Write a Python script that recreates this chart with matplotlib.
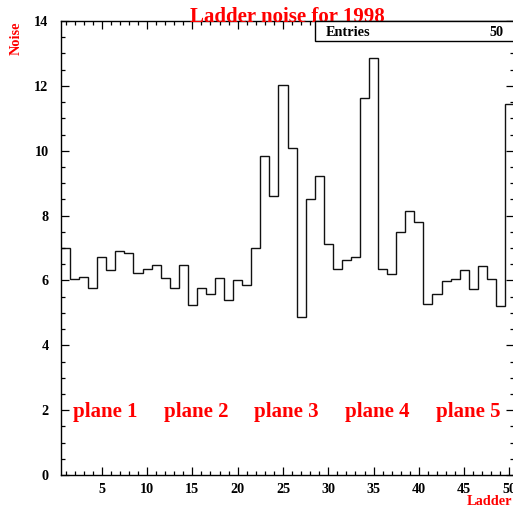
import numpy as np
import matplotlib
matplotlib.use("Agg")
import matplotlib.pyplot as plt
from matplotlib.patches import Rectangle
from matplotlib.ticker import MultipleLocator

# ---- data ----
ladders = list(range(1, 51))
noise = [7.00, 6.04, 6.11, 5.76, 6.71, 6.31, 6.92, 6.84, 6.22, 6.34,
         6.47, 6.07, 5.76, 6.49, 5.25, 5.76, 5.58, 6.06, 5.41, 6.00,
         5.85, 6.99, 9.83, 8.60, 12.03, 10.07, 4.88, 8.51, 9.21, 7.11,
         6.35, 6.63, 6.73, 11.62, 12.86, 6.35, 6.20, 7.50, 8.15, 7.80,
         5.26, 5.57, 5.99, 6.03, 6.31, 5.73, 6.44, 6.05, 5.20, 11.43]
plane_labels = ["plane 1", "plane 2", "plane 3", "plane 4", "plane 5"]
plane_centers = [5.4, 15.4, 25.4, 35.4, 45.4]
xticks = [5, 10, 15, 20, 25, 30, 35, 40, 45, 50]
yticks = [0, 2, 4, 6, 8, 10, 12, 14]
title = "Ladder noise for 1998"

W, H = 513, 508
serif = ["Liberation Serif", "DejaVu Serif"]
plt.rcParams["font.family"] = serif
plt.rcParams["font.weight"] = "bold"

fig = plt.figure(figsize=(W / 100, H / 100), dpi=100)
ax = fig.add_axes([61 / W, 33 / H, 453 / W, 454 / H])

edges = np.arange(len(ladders) + 1) + 0.5
ax.stairs(noise, edges, color="#111111", linewidth=1.0, baseline=None)

ax.set_xlim(0.5, 50.5)
ax.set_ylim(0, 14)
ax.set_xticks(xticks)
ax.set_yticks(yticks)
ax.xaxis.set_minor_locator(MultipleLocator(1))
ax.yaxis.set_minor_locator(MultipleLocator(0.5))
ax.tick_params(which="both", direction="in", top=True, right=True,
               labelsize=10.2, width=0.9, color="black")
ax.tick_params(which="major", length=6)
ax.tick_params(which="minor", length=3)
ax.tick_params(axis="y", pad=9)
ax.tick_params(axis="x", pad=6)
for lab in ax.get_xticklabels() + ax.get_yticklabels():
    lab.set_fontweight("bold")
for s in ax.spines.values():
    s.set_linewidth(1.0)
ax.spines["right"].set_clip_on(False)

for lbl, cx in zip(plane_labels, plane_centers):
    ax.text(cx, 1.8, lbl, color="red", fontsize=15, fontweight="bold",
            ha="center", va="baseline")

# title, axis labels
fig.text(287.5 / W, 1 - 21.5 / H, title, color="red", fontsize=15,
         fontweight="bold", ha="center", va="baseline")
fig.text(16 / W, 1 - 21.5 / H, "Noise", color="red", fontsize=10.3,
         fontweight="bold", rotation=90, ha="center", va="top")
fig.text(512 / W, 3 / H, "Ladder", color="red", fontsize=10.3,
         fontweight="bold", ha="right", va="baseline")

# stats box
fig.patches.append(Rectangle((315 / W, 1 - 41 / H), 220 / W, 20 / H,
                             transform=fig.transFigure, fill=True,
                             facecolor="white", edgecolor="black",
                             linewidth=1.0, clip_on=False, zorder=5))
fig.text(325.5 / W, 1 - 36 / H, "Entries", fontsize=10.3, fontweight="bold",
         ha="left", va="baseline", zorder=6)
fig.text(504 / W, 1 - 36 / H, str(len(noise)), fontsize=10.3,
         fontweight="bold", ha="right", va="baseline", zorder=6)

fig.savefig("out.png", dpi=100)
